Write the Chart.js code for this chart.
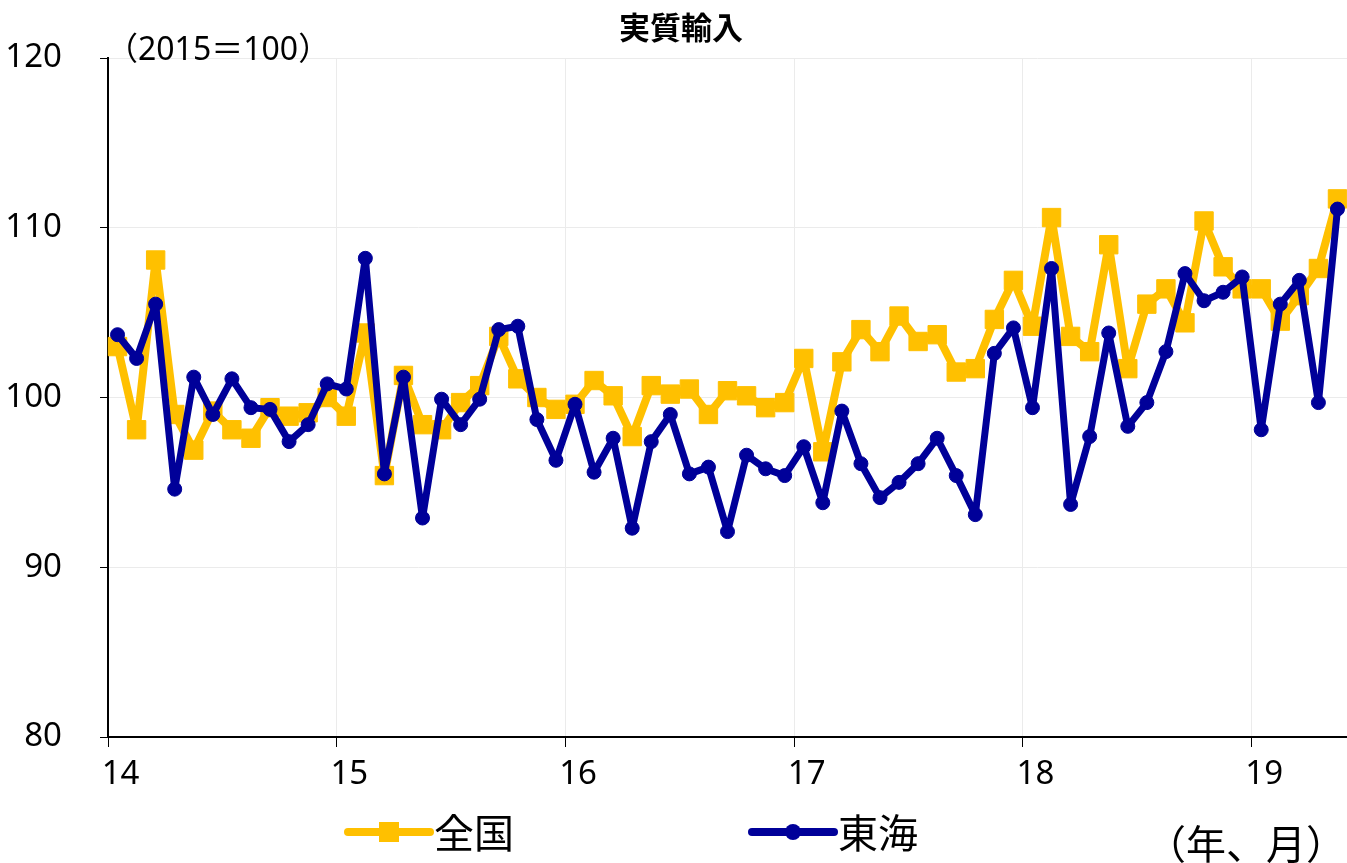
<!DOCTYPE html>
<html lang="ja">
<head>
<meta charset="utf-8">
<title>実質輸入</title>
<script src="https://cdn.jsdelivr.net/npm/chart.js@4.4.1/dist/chart.umd.min.js"></script>
<style>
  html, body { margin: 0; padding: 0; background: #fff; }
  #wrap { width: 1347px; height: 863px; }
</style>
</head>
<body>
<div id="wrap"><canvas id="chart" width="1347" height="863"></canvas></div>
<script>
// Year tick labels (x axis shows only the two-digit year)
const yearLabels = ['14', '15', '16', '17', '18', '19'];
// number of months per year in the data (last year ends in May)
const monthsPerYear = [12, 12, 12, 12, 12, 5];

// 全国 (2015=100), Jan 2014 - May 2019
const zenkoku = [
    103.0, 98.1, 108.1, 99.0, 96.9, 99.2, 98.1, 97.6, 99.4, 98.9, 99.1, 100.0,   // 14
    98.9, 103.8, 95.4, 101.3, 98.4, 98.1, 99.7, 100.7, 103.6, 101.1, 100.0, 99.3, // 15
    99.6, 101.0, 100.1, 97.7, 100.7, 100.2, 100.5, 99.0, 100.4, 100.1, 99.4, 99.7, // 16
    102.3, 96.8, 102.1, 104.0, 102.7, 104.8, 103.3, 103.7, 101.5, 101.7, 104.6, 106.9, // 17
    104.2, 110.6, 103.6, 102.7, 109.0, 101.7, 105.5, 106.4, 104.4, 110.4, 107.7, 106.4, // 18
    106.4, 104.5, 106.0, 107.6, 111.7  // 19
];

// 東海 (2015=100), Jan 2014 - May 2019
const tokai = [
    103.7, 102.3, 105.5, 94.6, 101.2, 99.0, 101.1, 99.4, 99.3, 97.4, 98.4, 100.8, // 14
    100.5, 108.2, 95.5, 101.2, 92.9, 99.9, 98.4, 99.9, 104.0, 104.2, 98.7, 96.3,  // 15
    99.6, 95.6, 97.6, 92.3, 97.4, 99.0, 95.5, 95.9, 92.1, 96.6, 95.8, 95.4,       // 16
    97.1, 93.8, 99.2, 96.1, 94.1, 95.0, 96.1, 97.6, 95.4, 93.1, 102.6, 104.1,     // 17
    99.4, 107.6, 93.7, 97.7, 103.8, 98.3, 99.7, 102.7, 107.3, 105.7, 106.2, 107.1, // 18
    98.1, 105.5, 106.9, 99.7, 111.1  // 19
];

const yMin = 80, yMax = 120, yStep = 10;

// build month categories like "14/1"
const categories = [];
yearLabels.forEach((y, i) => {
    for (let m = 1; m <= monthsPerYear[i]; m++) categories.push(y + '/' + m);
});

const YELLOW = '#FFC000';
const NAVY = '#000099';
const numFont = { family: '"Noto Sans", sans-serif', size: 33 };
const jpFont = '"Noto Sans CJK JP", sans-serif';

// Draws title, unit note and the legend under the plot
const textPlugin = {
    id: 'texts',
    afterDraw(chart) {
        const ctx = chart.ctx;
        ctx.save();
        ctx.fillStyle = '#000';

        ctx.font = 'bold 31px ' + jpFont;
        ctx.textAlign = 'center';
        ctx.textBaseline = 'middle';
        ctx.fillText('実質輸入', 681, 27);

        ctx.font = '32px "Noto Sans", ' + jpFont;
        ctx.textAlign = 'left';
        ctx.textBaseline = 'alphabetic';
        ctx.fillText('（2015＝100）', 106, 60);

        // legend
        const items = [
            { ds: chart.data.datasets[0], x: 348 },
            { ds: chart.data.datasets[1], x: 752 }
        ];
        const ly = 832;
        items.forEach(it => {
            ctx.strokeStyle = it.ds.borderColor;
            ctx.lineWidth = 8;
            ctx.lineCap = 'round';
            ctx.beginPath();
            ctx.moveTo(it.x, ly);
            ctx.lineTo(it.x + 82, ly);
            ctx.stroke();
            ctx.fillStyle = it.ds.borderColor;
            const cx = it.x + 41;
            if (it.ds.pointStyle === 'rect') {
                ctx.fillRect(cx - 10, ly - 10, 20, 20);
            } else {
                ctx.beginPath();
                ctx.arc(cx, ly, 8, 0, Math.PI * 2);
                ctx.fill();
            }
            ctx.fillStyle = '#000';
            ctx.font = '40px ' + jpFont;
            ctx.textAlign = 'left';
            ctx.textBaseline = 'middle';
            ctx.fillText(it.ds.label, it.x + 86, ly + 1);
        });

        ctx.font = '40px ' + jpFont;
        ctx.textAlign = 'right';
        ctx.textBaseline = 'middle';
        ctx.fillText('（年、月）', 1346, 844);
        ctx.restore();
    }
};

const chart = new Chart(document.getElementById('chart').getContext('2d'), {
    type: 'line',
    data: {
        labels: categories,
        datasets: [{
            label: '全国',
            data: zenkoku,
            borderColor: YELLOW,
            backgroundColor: YELLOW,
            borderWidth: 8,
            borderJoinStyle: 'round',
            pointStyle: 'rect',
            pointRadius: 13,
            pointBorderWidth: 1,
            tension: 0,
            order: 2
        }, {
            label: '東海',
            data: tokai,
            borderColor: NAVY,
            backgroundColor: NAVY,
            borderWidth: 7,
            borderJoinStyle: 'round',
            pointStyle: 'circle',
            pointRadius: 7,
            pointBorderWidth: 1,
            tension: 0,
            order: 1
        }]
    },
    options: {
        responsive: false,
        animation: false,
        devicePixelRatio: 1,
        layout: {
            autoPadding: false,
            padding: { top: 58, right: 0, bottom: 0, left: 0 }
        },
        plugins: {
            legend: { display: false },
            tooltip: { enabled: false }
        },
        scales: {
            x: {
                type: 'category',
                offset: true,
                grid: {
                    offset: true,
                    color: c => (c.index > 0 && c.index % 12 === 0) ? '#ebebeb' : 'rgba(0,0,0,0)',
                    tickColor: c => (c.index % 12 === 0) ? '#000' : 'rgba(0,0,0,0)',
                    tickLength: 10,
                    lineWidth: 1
                },
                border: { color: '#000', width: 2 },
                ticks: {
                    autoSkip: false,
                    maxRotation: 0,
                    minRotation: 0,
                    padding: 8,
                    labelOffset: 3,
                    color: '#000',
                    font: numFont,
                    callback: (v, i) => (i % 12 === 0 ? yearLabels[i / 12] : '')
                },
                afterFit: s => {
                    s.height = 126;
                    s.paddingLeft = 0;
                    s.paddingRight = 0;
                }
            },
            y: {
                min: yMin,
                max: yMax,
                grid: {
                    color: c => (c.tick && c.tick.value === yMin) ? 'rgba(0,0,0,0)' : '#ebebeb',
                    tickColor: '#000',
                    tickLength: 8,
                    lineWidth: 1
                },
                border: { color: '#000', width: 2 },
                ticks: {
                    stepSize: yStep,
                    padding: 38,
                    color: '#000',
                    font: numFont
                },
                afterFit: s => { s.width = 108; }
            }
        }
    },
    plugins: [textPlugin]
});
</script>
</body>
</html>
